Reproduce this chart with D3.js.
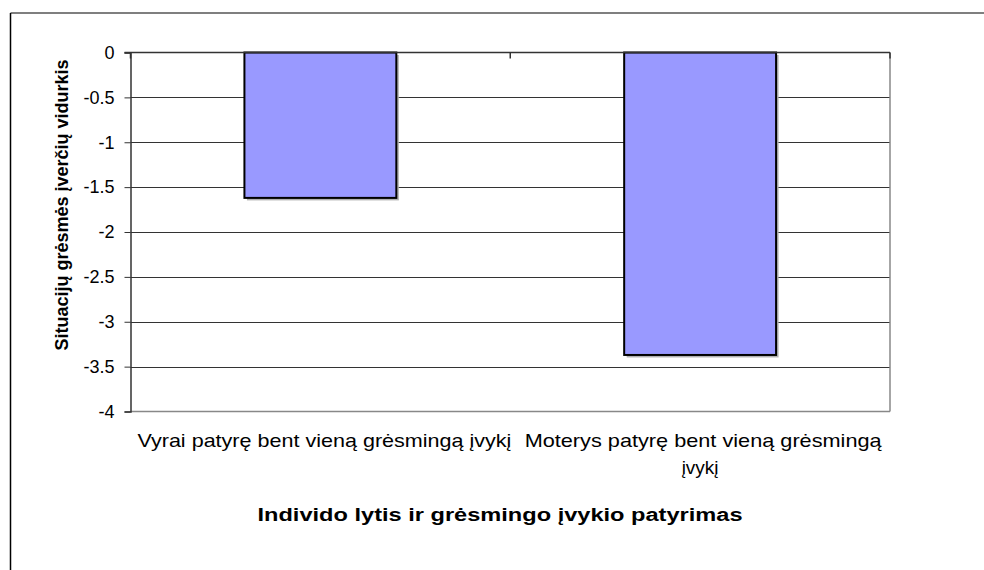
<!DOCTYPE html>
<html><head><meta charset="utf-8">
<script src="https://cdn.jsdelivr.net/npm/d3@7"></script>
<style>body{margin:0;background:#fff}svg{display:block}</style>
</head><body>
<svg id="c" width="984" height="570"></svg>
<script>
const categories = [["Vyrai patyrę bent vieną grėsmingą įvykį"], ["Moterys patyrę bent vieną grėsmingą", "įvykį"]];
const values = [-1.62, -3.37];
const yTicks = [0, -0.5, -1, -1.5, -2, -2.5, -3, -3.5, -4];
const yTitle = "Situacijų grėsmės įverčių vidurkis";
const xTitle = "Individo lytis ir grėsmingo įvykio patyrimas";

const svg = d3.select("#c");
const font = "Liberation Sans, Arial, sans-serif";
const m = {l: 130.5, r: 890, t: 52.5, b: 411.5};

// outer frame
svg.append("line").attr("x1", 10.5).attr("x2", 984).attr("y1", 13).attr("y2", 13).attr("stroke", "#555").attr("stroke-width", 1.5);
svg.append("line").attr("x1", 10.5).attr("x2", 10.5).attr("y1", 13).attr("y2", 570).attr("stroke", "#000").attr("stroke-width", 1.5);

const x = d3.scaleBand().domain(d3.range(categories.length)).range([m.l, m.r]).paddingInner(0.6).paddingOuter(0.3);
const y = d3.scaleLinear().domain([-4, 0]).range([m.b, m.t]);
const xEdge = d3.scaleLinear().domain([0, categories.length]).range([m.l, m.r]);

// gridlines
svg.append("g").selectAll("line").data(yTicks.filter(d => d !== -4 && d !== 0)).join("line")
  .attr("x1", m.l).attr("x2", m.r).attr("y1", d => Math.round(y(d)) + 0.5).attr("y2", d => Math.round(y(d)) + 0.5)
  .attr("stroke", "#333").attr("stroke-width", 1);

// plot border right & bottom (gray)
svg.append("line").attr("x1", m.r).attr("x2", m.r).attr("y1", m.t).attr("y2", m.b).attr("stroke", "#888").attr("stroke-width", 1.5);
svg.append("line").attr("x1", m.l).attr("x2", m.r).attr("y1", m.b).attr("y2", m.b).attr("stroke", "#888").attr("stroke-width", 1.5);

// bars with shadow
const bw = x.bandwidth();
svg.append("g").selectAll("rect").data(values).join("rect")
  .attr("x", (d, i) => x(i) + 2.5).attr("y", d => y(0) + 2.5).attr("width", bw).attr("height", d => y(d) - y(0))
  .attr("fill", "#b0b0b0");
svg.append("g").selectAll("rect").data(values).join("rect")
  .attr("x", (d, i) => x(i)).attr("y", d => y(0)).attr("width", bw).attr("height", d => y(d) - y(0))
  .attr("fill", "#9999ff").attr("stroke", "#000").attr("stroke-width", 2);

// y axis
const yAxis = svg.append("g").attr("transform", `translate(${m.l},0)`)
  .call(d3.axisLeft(y).tickValues(yTicks).tickSize(6).tickPadding(10).tickFormat(d => d === 0 ? "0" : String(d)));
yAxis.select(".domain").attr("stroke", "#333").attr("stroke-width", 1.5);
yAxis.selectAll(".tick line").attr("stroke", "#333");
yAxis.selectAll("text").attr("font-family", font).attr("font-size", 18).attr("fill", "#000");

// category axis at 0 (top) with ticks pointing down
svg.append("line").attr("x1", m.l - 6).attr("x2", m.r).attr("y1", y(0)).attr("y2", y(0)).attr("stroke", "#333").attr("stroke-width", 1.5);
svg.append("g").selectAll("line").data(d3.range(categories.length + 1)).join("line")
  .attr("x1", d => xEdge(d)).attr("x2", d => xEdge(d)).attr("y1", y(0)).attr("y2", y(0) + 6)
  .attr("stroke", "#333").attr("stroke-width", 1.5);

// category labels
const labW = [[374], [357, null]];
const lab = svg.append("g").selectAll("text").data(categories).join("text")
  .attr("font-family", font).attr("font-size", 19).attr("text-anchor", "middle").attr("fill", "#000");
lab.each(function(lines, i) {
  const cx = x(i) + bw / 2 + (i === 1 ? 3 : 4);
  d3.select(this).selectAll("tspan").data(lines).join("tspan")
    .attr("x", (d, j) => j === 0 ? cx : cx - 3).attr("y", (d, j) => 447 + j * 27)
    .attr("textLength", (d, j) => labW[i][j]).attr("lengthAdjust", "spacingAndGlyphs").text(d => d);
});

// titles
svg.append("text").attr("x", 500).attr("y", 521).attr("text-anchor", "middle")
  .attr("font-family", font).attr("font-size", 18).attr("font-weight", "bold")
  .attr("textLength", 485).attr("lengthAdjust", "spacingAndGlyphs").text(xTitle);
svg.append("text").attr("transform", "translate(68,205) rotate(-90)").attr("text-anchor", "middle")
  .attr("font-family", font).attr("font-size", 18).attr("font-weight", "bold").text(yTitle);
</script>
</body></html>
